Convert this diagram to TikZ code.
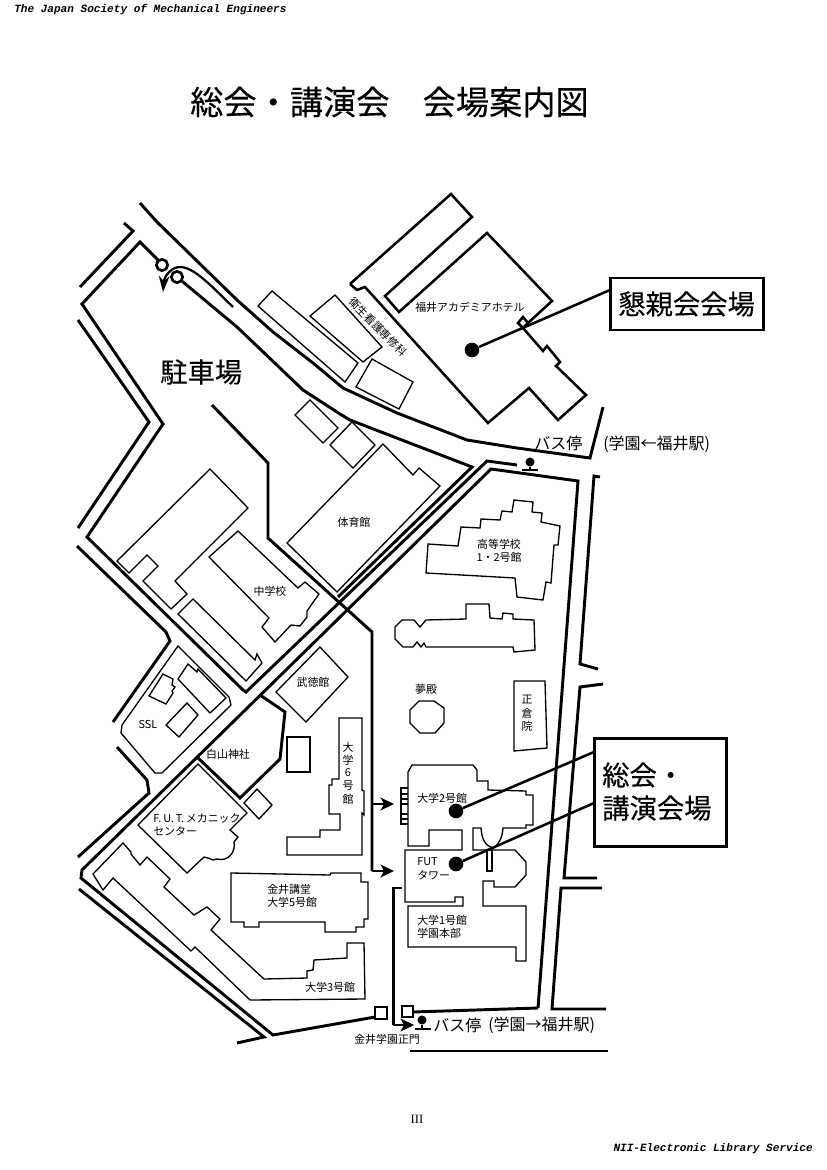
\documentclass[tikz,border=0pt]{standalone}
\usepackage{fontspec}
\setmainfont{Noto Sans CJK JP}
\newfontfamily\boldish[FakeBold=0.25]{Noto Sans CJK JP}
\newfontfamily\monofnt{Liberation Mono}
\newfontfamily\serfnt{Liberation Serif}
\usetikzlibrary{arrows.meta}
\tikzset{
  road/.style={line width=2.2pt,miter limit=6},
  bld/.style={line width=1pt,miter limit=6},
  bldb/.style={line width=1.9pt,miter limit=6},
  arr/.style={line width=2.2pt,-{Stealth[length=10pt,width=9.5pt,inset=2.5pt]}},
  lab/.style={inner sep=0pt,font=\fontsize{8.2pt}{10pt}\selectfont},
  labl/.style={lab,anchor=west},
  big/.style={inner sep=0pt,anchor=west,font=\boldish\fontsize{20.5pt}{24pt}\selectfont},
  mid/.style={inner sep=0pt,anchor=west,font=\fontsize{12pt}{14pt}\selectfont},
  dot/.style={circle,fill=black,inner sep=0pt,minimum size=11pt},
  ring/.style={circle,draw,line width=2pt,inner sep=0pt,minimum size=8.5pt},
  pin/.style={circle,fill=black,inner sep=0pt,minimum size=6.8pt},
  callout/.style={line width=1.9pt},
  sq/.style={draw,line width=1.3pt,inner sep=0pt,minimum size=8.6pt}
}
\begin{document}
\begin{tikzpicture}[x=0.75pt,y=-0.75pt]
\useasboundingbox (0,0) rectangle (827,1170);
% headers
\node[anchor=west,inner sep=0pt] (hdr) at (14,10) {\monofnt\bfseries\itshape\fontsize{8.3pt}{10pt}\selectfont The Japan Society of Mechanical Engineers};
\node[anchor=east,inner sep=0pt] (ftr) at (813,1149) {\monofnt\bfseries\itshape\fontsize{8.3pt}{10pt}\selectfont NII-Electronic Library Service};
\node[inner sep=0pt] (pg) at (417,1119) {\serfnt\fontsize{9.5pt}{10pt}\selectfont III};
\node[inner sep=0pt,anchor=west] (title) at (190,102) {\boldish\fontsize{24.9pt}{28pt}\selectfont 総会・講演会　会場案内図};
% roads
\node[ring] (c1) at (162,265) {};
\node[ring] (c2) at (177,277) {};
\draw[road] (140,203)--(157,222)--(237,300)--(273,332)--(313,363)--(343,388)--(397,413)--(467,440)--(517,448)--(590,458)--(603,407);
\draw[road] (124,223)--(133,231)--(80,287);
\draw[road] (c1)--(158,260)--(140,242)--(82,304)--(163,424)--(87,537)--(243,690)--(246,692)--(487,461)--(517,465);
\draw[road] (c2)--(237,327)--(303,390)--(340,414)--(350,420)--(472,467)--(338,597);
\draw[road] (78,320)--(149,422)--(78,528);
\draw[road] (77,546)--(166,632)--(170,641)--(113,722);
\draw[road] (212,405)--(268,463)--(268,538)--(372,632)--(372,871);
\draw[road] (538,1008)--(578,481)--(491,469)--(82,870)--(81,878)--(273,1035)--(375,1017);
\draw[road] (538,1008)--(413,1012);
\draw[road] (117,747)--(147,780)--(149,793)--(78,857);
\draw[road] (79,889)--(264,1037)--(237,1043);
\draw[road] (260,695)--(285,712)--(280,759)--(240,798)--(197,757);
\draw[road] (600,477)--(594,476)--(580,664)--(598,669);
\draw[road] (603,684)--(580,687)--(564,878)--(597,878);
\draw[road] (602,888)--(561,888)--(552,1009)--(606,1009);
\draw[road] (410,1051)--(608,1051);
\coordinate (a1) at (394,871);
\coordinate (a2) at (394,804);
\coordinate (a3) at (414,1025);
\coordinate (a0) at (372,871);
\coordinate (a00) at (372,804);
\draw[arr] (a0)--(a1);
\draw[arr] (a00)--(a2);
\draw[road] (402,888)--(393.5,888)--(393.5,1025);
\draw[arr] (393,1025)--(a3);
\draw[line width=1.7pt,-{Stealth[length=12pt,width=8pt]}] (233,307) .. controls (210,285) and (190,262) .. (175,268) .. controls (168,271) and (164,278) .. (163,292);
% gate squares
\node[sq,fill=white] (g1) at (381,1013) {};
\node[sq,fill=white] (g2) at (407.5,1011.5) {};
% buildings top
\draw[bld] (272,291)--(358,363)--(345,382)--(258,306)--cycle;
\draw[bld] (335,295)--(310,316)--(363,362)--(382,347)--cycle;
\draw[bld] (372,359)--(413,382)--(399,409)--(356,387)--cycle;
\draw[bld] (310,400)--(338,428)--(323,443)--(295,415)--cycle;
\draw[bld] (352,422)--(375,445)--(353,468)--(330,445)--cycle;
% hotel
\draw[bldb] (350,284)--(451,194)--(472,217)--(385,296)--(399,312)--(487,233)--(552,301)--(528,323);
\draw[bldb] (523,317)--(528,323)--(523,328)--(518,323)--cycle;
\draw[bldb] (523,328)--(543,351)--(547,346)--(560,362)--(556,366)--(586,395)--(558,420)--(529,388)--(488,423)--(365,287)--(357,290)--(350,284);
% gym
\draw[bld] (383,444)--(413,475)--(419,468)--(440,486)--(337,592)--(287,543)--cycle;
% junior high
\draw[bld] (210,469)--(248,508)--(175,581)--(187,594)--(171,609)--(143,581)--(158,566)--(147,555)--(129,573)--(117,561)--cycle;
\draw[bld] (238,531)--(298,588)--(305,582)--(319,594)--(307,611)--(307,617)--(300,626)--(291,625)--(275,642)--(262,627)--(269,618)--(209,557)--cycle;
\draw[bld] (193,599)--(255,660)--(257,654)--(262,663)--(246,681)--(178,614)--cycle;
\draw[bld] (320,647)--(348,677)--(306,722)--(276,692)--cycle;
% SSL
\draw[bld] (178,646)--(229,697)--(231,705)--(162,773)--(155,773)--(121,733)--(122,725)--cycle;
\draw[bld] (163,674)--(173,679)--(172,685)--(175,687)--(172,691)--(173,693)--(166,704)--(149,696)--cycle;
\draw[bld] (188,664)--(197,672)--(198,669)--(226,698)--(210,713)--(178,679)--cycle;
\draw[bld] (187,703)--(198,715)--(179,737)--(166,725)--cycle;
% mechanic
\draw[bld] (198,764)--(247,813)--(230,830)--(238,837)--(234,842) .. controls (236,852) and (228,862) .. (217,859)--(213,860)--(208,858)--(204,857)--(187,873)--(138,825)--cycle;
\draw[bld] (257,789)--(272,805)--(259,819)--(244,803)--cycle;
\draw[bld] (287,737) rectangle (310,772);
\draw[bld] (339,718)--(362,718)--(362,790)--(364,791)--(364,815)--(362,813)--(362,855)--(287,855)--(287,837)--(320,837)--(320,830)--(340,830)--(340,814)--(329,814)--(329,785)--(332,785)--(332,779)--(339,779)--cycle;
\draw[bld] (231,873)--(330,875)--(331,873)--(361,873)--(361,882)--(368,882)--(368,919)--(364,919)--(364,927)--(356,927)--(356,932)--(325,932)--(325,922)--(259,922)--(259,927)--(244,927)--(244,922)--(231,922)--cycle;
\draw[bld] (123,843)--(131,852)--(131,854)--(140,865)--(147,857)--(170,879)--(164,887)--(194,915)--(199,912)--(202,910)--(207,907)--(220,919)--(211,930)--(264,979)--(307,978)--(307,971)--(313,970)--(314,960)--(347,958)--(347,943)--(364,943)--(365,999)--(250,1000)--(195,947)--(191,951)--(113,878)--(103,890)--(93,874)--cycle;
% right buildings
\draw[bld] (428,544)--(458,546)--(461,527)--(480,528)--(481,519)--(500,520)--(502,511)--(512,512)--(514,500)--(533,502)--(532,512)--(542,513)--(541,522)--(560,526)--(558,545)--(554,545)--(551,583)--(546,582)--(543,600)--(517,597)--(515,578)--(426,573)--cycle;
\draw[bld] (395,627)--(402,620)--(414,620)--(420,627)--(426,620)--(466,619)--(466,604)--(489,604)--(490,618)--(502,619)--(503,613)--(513,614)--(513,619)--(534,620)--(535,650)--(514,652)--(513,647)--(426,647)--(424,643)--(421,647)--(417,642)--(413,647)--(403,647)--(395,639)--cycle;
\draw[bld] (419,701)--(434,701)--(444,708)--(444,723)--(435,733)--(420,733)--(410,723)--(410,710)--cycle;
\draw[bld] (514,681)--(545,681)--(547,748)--(514,751)--cycle;
\draw[bld] (408,772)--(412,765)--(473,765)--(477,770)--(477,781)--(488,781)--(488,790)--(526,791)--(526,795)--(533,795)--(533,825)--(526,825)--(526,828)--(503,828) .. controls (502,838) and (500,842) .. (494,848);
\draw[bld] (408,772)--(408,846)--(429,846)--(429,830)--(462,830)--(462,850)--(405,850)--(405,902)--(455,902)--(455,897)--(463,897)--(463,906)--(408,906)--(408,947)--(516,947)--(516,961)--(526,961)--(526,906)--(483,906)--(483,881)--(494,881)--(494,887)--(515,887)--(526,875)--(526,862)--(515,850)--(473,850)--(473,828)--(481,828) .. controls (482,840) and (485,846) .. (494,848);
\draw[bld] (487,850) rectangle (492,871);
\draw[bld] (408,788)--(401,788)--(401,824)--(408,824);
\draw[bld] (401,794)--(408,794) (401,799)--(408,799) (401,804)--(408,804) (401,814)--(408,814) (401,819)--(408,819);
% stops
\node[pin] (p1) at (530,462) {};
\coordinate (p1b) at (530,470);
\draw[line width=1.4pt] (p1)--(p1b);
\draw[line width=1.2pt] (522,470)--(538,470);
\node[pin] (p2) at (422,1020) {};
\coordinate (p2b) at (422,1029);
\draw[line width=1.4pt] (p2)--(p2b);
\draw[line width=1.2pt] (415,1029)--(431,1029);
% callouts
\node[draw,line width=2.2pt,minimum width=115pt,minimum height=39pt,inner sep=0pt] (box1) at (687,304) {};
\node[draw,line width=2.2pt,minimum width=99.5pt,minimum height=81.5pt,inner sep=0pt] (box2) at (660.5,792.5) {};
\node[dot] (d1) at (472,350) {};
\node[dot] (d2) at (456,811) {};
\node[dot] (d3) at (456,864) {};
\coordinate (e1) at (610,290);
\coordinate (e2) at (594,752);
\coordinate (e3) at (594,803);
\draw[callout] (d1)--(e1);
\draw[callout] (d2)--(e2);
\draw[callout] (d3)--(e3);
% labels
\node[big] (t1) at (618,304) {懇親会会場};
\node[big] (t2) at (160,372) {駐車場};
\node[big] (t3) at (602,775) {総会・};
\node[big] (t4) at (602,808) {講演会場};
\node[labl] (l1) at (415,307) {福井アカデミアホテル};
\node[lab,rotate=-45] (l2) at (378,327) {衛生看護専修科};
\node[mid] (l3) at (534,443) {バス停};
\node[mid] (l4) at (603,444) {(学園←福井駅)};
\node[lab] (l5) at (354,522) {体育館};
\node[lab] (l6) at (499,544) {高等学校};
\node[lab] (l7) at (499,557) {1・2号館};
\node[lab] (l8) at (270,591) {中学校};
\node[lab] (l9) at (313,682) {武徳館};
\node[lab] (l10) at (426,689) {夢殿};
\node[lab] (l11) at (527,699) {正};
\node[lab] (l12) at (527,713) {倉};
\node[lab] (l13) at (527,726) {院};
\node[lab] (l14) at (348,747) {大};
\node[lab] (l15) at (348,760) {学};
\node[lab] (l16) at (348,773) {6};
\node[lab] (l17) at (348,786) {号};
\node[lab] (l18) at (348,799) {館};
\node[lab] (l19) at (148,724) {SSL};
\node[lab] (l20) at (228,754) {白山神社};
\node[labl] (l21) at (153,818) {F.\,U.\,T.\,メカニック};
\node[labl] (l22) at (153,831) {センター};
\node[labl] (l23) at (267,889) {金井講堂};
\node[labl] (l24) at (267,902) {大学5号館};
\node[labl] (l25) at (305,987) {大学3号館};
\node[labl] (l26) at (354,1039) {金井学園正門};
\node[labl] (l27) at (417,798) {大学2号館};
\node[labl] (l28) at (417,862) {FUT};
\node[labl] (l29) at (417,875) {タワー};
\node[labl] (l30) at (417,920) {大学1号館};
\node[labl] (l31) at (417,933) {学園本部};
\node[mid] (l32) at (433,1025) {バス停};
\node[mid] (l33) at (488,1025) {(学園→福井駅)};
\end{tikzpicture}
\end{document}
